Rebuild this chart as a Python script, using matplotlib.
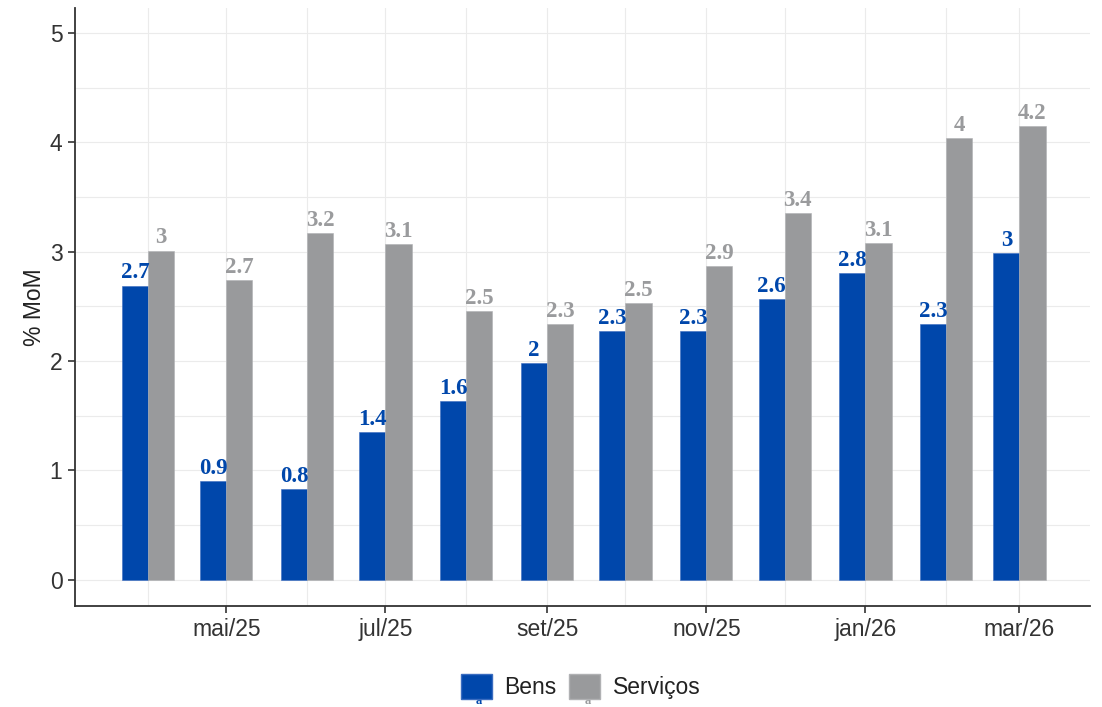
import matplotlib
matplotlib.use("Agg")
import matplotlib.pyplot as plt
import matplotlib.dates as mdates
from matplotlib.patches import Patch
import numpy as np
import pandas as pd

# monthly data, apr/25 .. mar/26
months = pd.date_range("2025-04-01", "2026-03-01", freq="MS")
bens = [2.69, 0.90, 0.83, 1.35, 1.63, 1.98, 2.27, 2.27, 2.57, 2.80, 2.34, 2.99]
servicos = [3.01, 2.74, 3.17, 3.07, 2.46, 2.34, 2.53, 2.87, 3.35, 3.08, 4.04, 4.15]
series_names = ["Bens", "Serviços"]

blue = "#0047AB"
grey = "#999A9C"
grey_txt = "#9A9B9D"
axis_col = "#333333"
grid_col = "#EBEBEB"

plt.rcParams["font.family"] = ["Liberation Sans", "DejaVu Sans"]

fig = plt.figure(figsize=(11.02, 7.07), dpi=100)
ax = fig.add_axes([0.068, 0.143, 0.921, 0.846])

x = mdates.date2num(months.to_pydatetime())
bw = 10.0  # bar width in days
ax.bar(x - bw / 2, bens, width=bw, color=blue, edgecolor="#3a6cc0", linewidth=0.4, zorder=3)
ax.bar(x + bw / 2, servicos, width=bw, color=grey, edgecolor="#b0b1b3", linewidth=0.4, zorder=3)

lab_font = dict(family="Liberation Serif", fontweight="bold", fontsize=16.5)
for xi, v in zip(x, bens):
    ax.annotate(f"{round(v, 1):g}", (xi - bw / 2, v), xytext=(0, 1.5), textcoords="offset points",
                ha="center", va="bottom", color=blue, zorder=4, **lab_font)
for xi, v in zip(x, servicos):
    ax.annotate(f"{round(v, 1):g}", (xi + bw / 2, v), xytext=(0, 1.5), textcoords="offset points",
                ha="center", va="bottom", color=grey_txt, zorder=4, **lab_font)

# axes / ticks
ax.set_ylim(-0.24, 5.23)
ax.set_xlim(mdates.date2num(pd.Timestamp("2025-03-04")), mdates.date2num(pd.Timestamp("2026-03-28")))
ax.set_yticks([0, 1, 2, 3, 4, 5])
ax.set_yticks(np.arange(0.5, 5.0, 1.0), minor=True)
major_x = [m for i, m in enumerate(months) if i % 2 == 1]
minor_x = [m for i, m in enumerate(months) if i % 2 == 0]
ax.set_xticks(mdates.date2num([m.to_pydatetime() for m in major_x]))
ax.set_xticks(mdates.date2num([m.to_pydatetime() for m in minor_x]), minor=True)
pt_months = ["jan", "fev", "mar", "abr", "mai", "jun", "jul", "ago", "set", "out", "nov", "dez"]
ax.set_xticklabels([f"{pt_months[m.month - 1]}/{m.strftime('%y')}" for m in major_x])

ax.grid(True, which="both", color=grid_col, linewidth=0.8, zorder=0)
ax.set_axisbelow(True)
ax.tick_params(axis="both", which="major", labelsize=16.5, colors=axis_col, length=5, width=1.2, pad=4)
ax.tick_params(axis="both", which="minor", length=0)
for s in ["top", "right"]:
    ax.spines[s].set_visible(False)
for s in ["left", "bottom"]:
    ax.spines[s].set_color(axis_col)
    ax.spines[s].set_linewidth(1.3)

ax.set_ylabel("% MoM", fontsize=16.5, color="#222222", labelpad=3)

handles = [Patch(facecolor=blue, edgecolor="#3a6cc0"), Patch(facecolor=grey, edgecolor="#b0b1b3")]
leg = fig.legend(handles, series_names, loc="center", bbox_to_anchor=(0.527, 0.029), ncol=2,
                 frameon=False, fontsize=16.5, handlelength=1.35, handleheight=1.35,
                 handletextpad=0.55, columnspacing=0.55)
for t in leg.get_texts():
    t.set_color("#222222")

# small glyph artefacts under legend keys
fig.text(479 / 1102, 0.0, "a", color=blue, fontsize=9, fontweight="bold",
         family="Liberation Serif", ha="center", va="bottom")
fig.text(588 / 1102, 0.0, "a", color=grey, fontsize=9, fontweight="bold",
         family="Liberation Serif", ha="center", va="bottom")

fig.savefig("out.png", dpi=100)
